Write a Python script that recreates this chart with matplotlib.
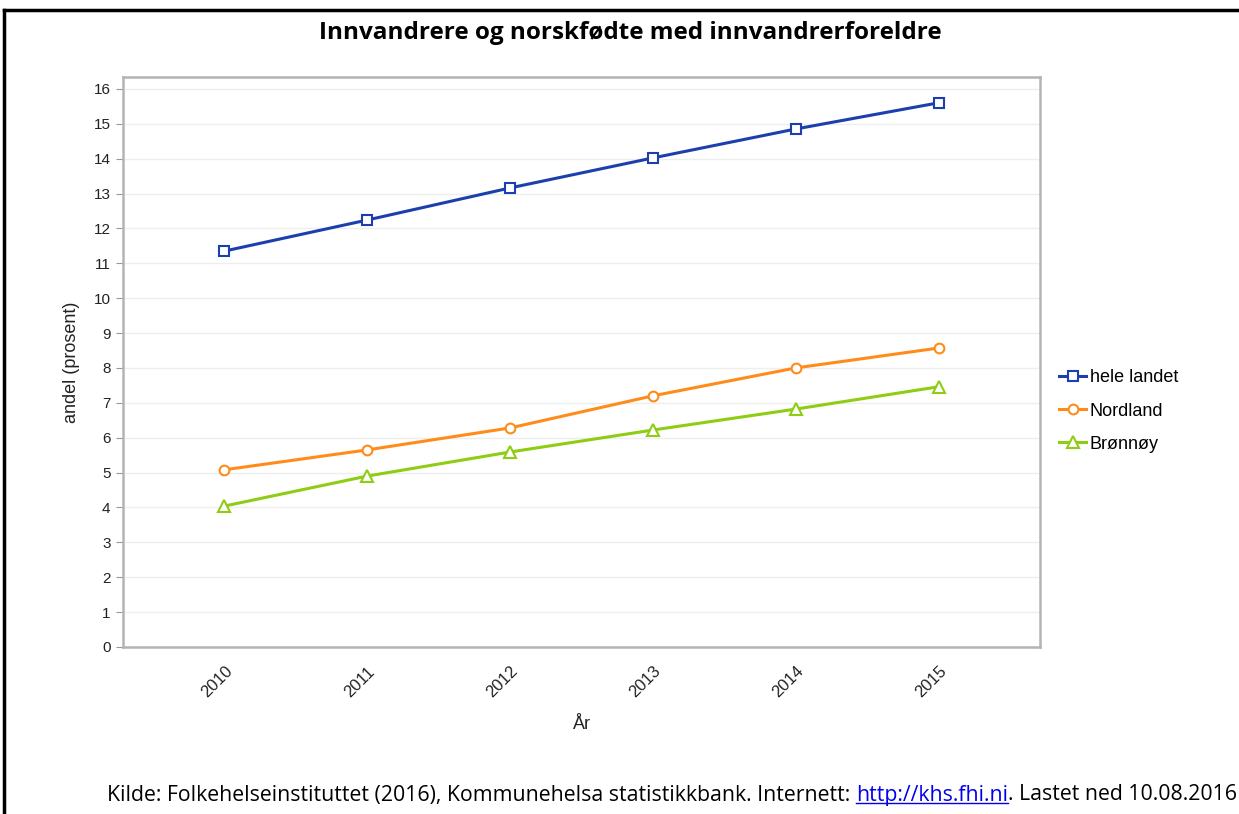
import matplotlib
matplotlib.use("Agg")
from matplotlib import pyplot as plt
from matplotlib.lines import Line2D
import numpy as np

# data
years = ["2010", "2011", "2012", "2013", "2014", "2015"]
hele_landet = [11.35, 12.24, 13.16, 14.02, 14.85, 15.60]
nordland = [5.08, 5.65, 6.28, 7.20, 8.00, 8.57]
bronnoy = [4.04, 4.90, 5.59, 6.22, 6.82, 7.46]
y_ticks = list(range(0, 17))

plt.rcParams["font.family"] = ["Liberation Sans", "DejaVu Sans"]

fig = plt.figure(figsize=(12.39, 8.14), dpi=100)
W, H = 1239, 814
ax = fig.add_axes([123 / W, 1 - 647 / H, (1040 - 123) / W, (647 - 77) / H])

x = np.arange(len(years))
series = [
    (hele_landet, "hele landet", "#1c3fae", "s", 7),
    (nordland, "Nordland", "#ff8c1a", "o", 7),
    (bronnoy, "Brønnøy", "#8fcc14", "^", 8),
]
for vals, label, col, mk, ms in series:
    ax.plot(x, vals, color=col, linewidth=2.2, marker=mk, markersize=ms,
            markerfacecolor="white", markeredgecolor=col, markeredgewidth=1.5,
            label=label, zorder=3)

ax.set_xlim(-0.71, len(years) - 1 + 0.71)
ax.set_ylim(0, 16.34)
ax.set_yticks(y_ticks)
ax.set_yticklabels([str(v) for v in y_ticks], fontsize=11, color="#222222")
ax.set_xticks(x)
ax.set_xticklabels(years, rotation=45, ha="right", va="top", fontsize=12,
                   color="#222222", rotation_mode="anchor")
ax.tick_params(axis="x", length=0, pad=12)
ax.tick_params(axis="y", length=5, color="#999999", pad=4)
ax.grid(axis="y", color="#eeeeee", linewidth=1)
ax.set_axisbelow(True)
for s in ax.spines.values():
    s.set_color("#b4b4b4")
    s.set_linewidth(1.8)

ax.set_ylabel("andel (prosent)", fontsize=13, color="#222222", labelpad=10)
ax.set_xlabel("År", fontsize=13, color="#222222", labelpad=11)

ax.legend(loc="center left", bbox_to_anchor=(1.021, 0.414), frameon=False,
          fontsize=13, handlelength=1.5, handletextpad=0.2, labelspacing=0.9,
          borderaxespad=0, borderpad=0)

fig.text(630 / W, 1 - 33 / H, "Innvandrere og norskfødte med innvandrerforeldre",
         ha="center", va="center", fontsize=17.5, fontweight="bold",
         family=["Open Sans", "DejaVu Sans"])

fsize = 15.3
foot = fig.text(107 / W, 1 - 795 / H,
                "Kilde: Folkehelseinstituttet (2016), Kommunehelsa statistikkbank. Internett: ",
                ha="left", va="center", fontsize=fsize, family=["Open Sans", "DejaVu Sans"])

# black frame around the figure (left and top edges visible)
fig.add_artist(Line2D([4 / W, 4 / W], [0, 1 - 10 / H], color="black", linewidth=2.5,
                      transform=fig.transFigure))
fig.add_artist(Line2D([4 / W, 1], [1 - 10 / H, 1 - 10 / H], color="black", linewidth=2.5,
                      transform=fig.transFigure))

fig.canvas.draw()
r = fig.canvas.get_renderer()
bb = foot.get_window_extent(r)
link = fig.text(bb.x1 / W, 1 - 795 / H, "http://khs.fhi.ni", ha="left", va="center",
                fontsize=fsize, color="#0000ee", family=["Open Sans", "DejaVu Sans"])
bb2 = link.get_window_extent(r)
fig.add_artist(Line2D([bb2.x0 / W, bb2.x1 / W], [bb2.y0 / H + 3 / H, bb2.y0 / H + 3 / H],
                      color="#0000ee", linewidth=1, transform=fig.transFigure))
fig.text(bb2.x1 / W, 1 - 795 / H, ". Lastet ned 10.08.2016", ha="left", va="center",
         fontsize=fsize, family=["Open Sans", "DejaVu Sans"])

fig.savefig("out.png", dpi=100, facecolor="white")
